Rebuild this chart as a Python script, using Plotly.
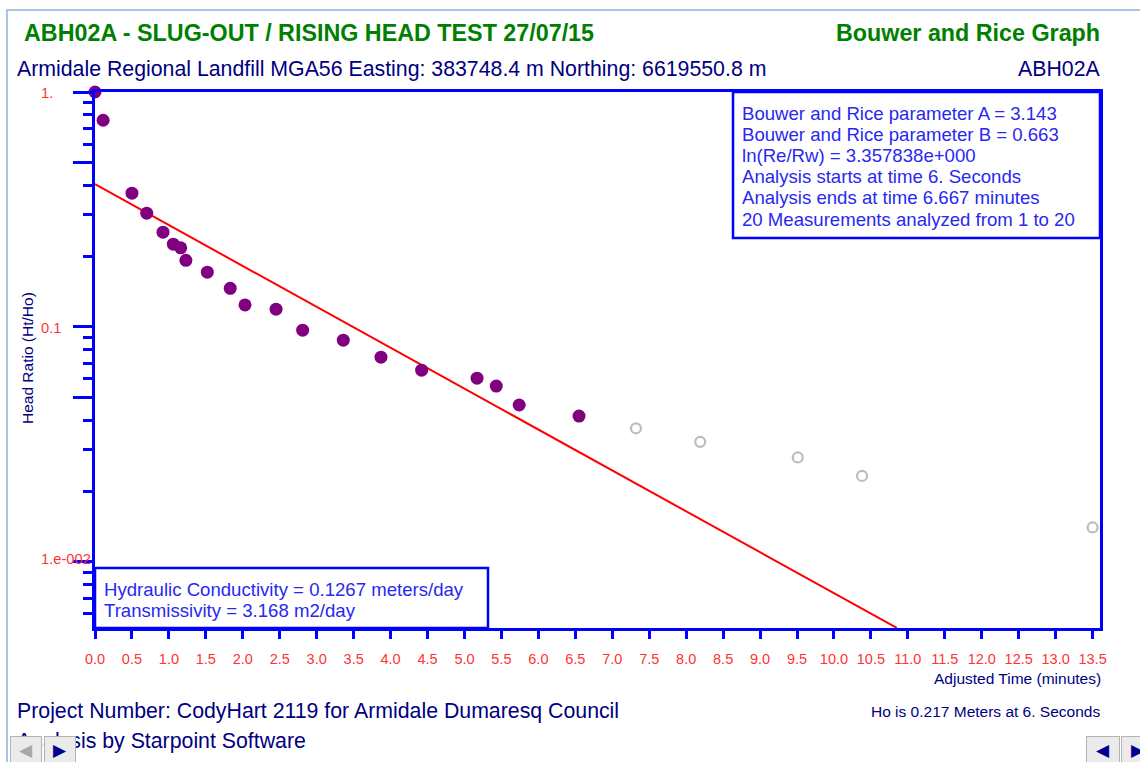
import math
import plotly.graph_objects as go

# ---------------- data ----------------
analyzed_time = [0.0, 0.11, 0.50, 0.70, 0.92, 1.06, 1.16, 1.23, 1.52, 1.83,
                 2.03, 2.45, 2.81, 3.36, 3.87, 4.42, 5.17, 5.43, 5.74, 6.55]
analyzed_ratio = [1.0, 0.758, 0.371, 0.305, 0.253, 0.225, 0.217, 0.192, 0.171, 0.146,
                  0.124, 0.119, 0.0968, 0.0878, 0.0743, 0.0654, 0.0605, 0.0560, 0.0465, 0.0417]
excluded_time = [7.32, 8.19, 9.51, 10.38, 13.50]
excluded_ratio = [0.0370, 0.0324, 0.0278, 0.0232, 0.0140]
fit_time = [0.0, 10.85]
fit_ratio = [0.405, 0.00523]

y_major_ticks = [1, 0.5, 0.1, 0.05, 0.01, 0.005]
y_minor_ticks = [0.9, 0.8, 0.7, 0.6, 0.4, 0.3, 0.2,
                 0.09, 0.08, 0.07, 0.06, 0.04, 0.03, 0.02,
                 0.009, 0.008, 0.007, 0.006]
y_label_values = [1, 0.1, 0.01]
y_label_texts = ["1.", "0.1", "1.e-002"]

params_lines = [
    "Bouwer and Rice parameter A = 3.143",
    "Bouwer and Rice parameter B = 0.663",
    "ln(Re/Rw) = 3.357838e+000",
    "Analysis starts at time 6. Seconds",
    "Analysis ends at time 6.667 minutes",
    "20 Measurements analyzed from 1 to 20",
]
result_lines = [
    "Hydraulic Conductivity = 0.1267 meters/day",
    "Transmissivity = 3.168 m2/day",
]

# ---------------- layout helpers ----------------
W, H = 1140, 762
L, R, T, B = 95, 1100, 92, 628
YMIN_LOG = -2.282
FONT = "Arial, Liberation Sans, sans-serif"
BLUE = "#0000ff"
NAVY = "#000080"
TXTBLUE = "#2828f0"
RED = "#ff3333"
GREEN = "#008000"


def px(x):
    return (x - L) / (R - L)


def py(y):
    return (B - y) / (B - T)


fig = go.Figure()

fig.add_trace(go.Scatter(x=fit_time, y=fit_ratio, mode="lines",
                         line=dict(color="#ff0000", width=2), hoverinfo="skip"))
fig.add_trace(go.Scatter(x=excluded_time, y=excluded_ratio, mode="markers",
                         marker=dict(symbol="circle-open", size=10, color="#bdbdbd",
                                     line=dict(width=2.2, color="#bdbdbd")),
                         cliponaxis=False))
fig.add_trace(go.Scatter(x=analyzed_time, y=analyzed_ratio, mode="markers",
                         marker=dict(symbol="circle", size=13, color="#800080",
                                     line=dict(width=0)),
                         cliponaxis=False))

ann = []


def text(x, y, s, size, color, xanchor="left", weight=None, angle=0):
    f = dict(family=FONT, size=size, color=color)
    if weight:
        f["weight"] = weight
    ann.append(dict(x=px(x), y=py(y), xref="paper", yref="paper", text=s,
                    showarrow=False, xanchor=xanchor, yanchor="middle",
                    font=f, textangle=angle, borderpad=0))


text(23, 33, "ABH02A - SLUG-OUT / RISING HEAD TEST 27/07/15", 23.3, GREEN, weight=700)
text(1101, 33, "Bouwer and Rice Graph", 23.3, GREEN, xanchor="right", weight=700)
text(16, 69, "Armidale Regional Landfill MGA56 Easting: 383748.4 m Northing: 6619550.8 m", 21.3, NAVY)
text(1101, 69, "ABH02A", 21.3, NAVY, xanchor="right")
text(16, 711, "Project Number: CodyHart 2119 for Armidale Dumaresq Council", 21.3, NAVY)
text(16, 741, "Analysis by Starpoint Software", 21.3, NAVY)
text(1101, 711, "Ho is 0.217 Meters at 6. Seconds", 15.5, NAVY, xanchor="right")
text(1102, 678, "Adjusted Time (minutes)", 15.5, NAVY, xanchor="right")
ann.append(dict(x=px(27), y=py(358), xref="paper", yref="paper", text="Head Ratio (Ht/Ho)",
                showarrow=False, xanchor="center", yanchor="middle", textangle=-90,
                font=dict(family=FONT, size=15.5, color=NAVY)))

# y tick labels (left aligned like the original)
for v, s in zip(y_label_values, y_label_texts):
    ypix = B - (math.log10(v) - YMIN_LOG) / (-YMIN_LOG) * (B - T)
    if v == 0.01:
        ypix -= 4
    text(40, ypix + 1, s, 14.7, RED)

# parameter box text
for i, s in enumerate(params_lines):
    text(741, 113 + i * 21.2, s, 18.6, TXTBLUE)
for i, s in enumerate(result_lines):
    text(103, 589 + i * 21.2, s, 18.6, TXTBLUE)


# navigation buttons (drawn last so they cover the text, as in the original screenshot)
def button(xc, yc, w, h, glyph, color):
    ann.append(dict(x=px(xc), y=py(yc), xref="paper", yref="paper", text=glyph,
                    showarrow=False, xanchor="center", yanchor="middle",
                    width=w, height=h, bgcolor="#ebebeb", bordercolor="#b4b4b4",
                    borderwidth=1, borderpad=0,
                    font=dict(family="DejaVu Sans", size=17, color=color)))


button(26, 750, 30, 26, "◀", "#a8a8a8")
button(60, 750, 30, 26, "▶", "#000090")
button(1103, 750, 32, 26, "◀", "#000090")
button(1138, 750, 32, 26, "▶", "#000090")

shapes = [
    # outer light-blue frame
    dict(type="rect", xref="paper", yref="paper", x0=px(7), x1=px(1160), y0=py(10), y1=py(790),
         line=dict(color="#8db3e2", width=1.5), fillcolor="rgba(0,0,0,0)", layer="below"),
    # parameter box
    dict(type="rect", xref="paper", yref="paper", x0=px(733), x1=px(1100), y0=py(92), y1=py(238),
         line=dict(color=BLUE, width=2.5), fillcolor="white", layer="above"),
    # result box
    dict(type="rect", xref="paper", yref="paper", x0=px(95), x1=px(488), y0=py(568), y1=py(628),
         line=dict(color=BLUE, width=2.5), fillcolor="white", layer="above"),
]

fig.update_layout(
    width=W, height=H,
    margin=dict(l=L, r=W - R, t=T, b=H - B),
    paper_bgcolor="white", plot_bgcolor="white",
    showlegend=False,
    annotations=ann,
    shapes=shapes,
    xaxis=dict(range=[0, 13.6], tickmode="linear", tick0=0, dtick=0.5, tickformat=".1f",
               showgrid=False, zeroline=False, showline=True, mirror=True,
               linecolor=BLUE, linewidth=2.5, ticks="outside", ticklen=8,
               tickwidth=2.5, tickcolor=BLUE, ticklabelstandoff=8,
               tickfont=dict(family=FONT, size=14.5, color=RED)),
    yaxis=dict(type="log", range=[YMIN_LOG, 0], tickmode="array", tickvals=y_major_ticks,
               showticklabels=False, showgrid=False, zeroline=False, showline=True,
               mirror=True, linecolor=BLUE, linewidth=2.5, ticks="outside", ticklen=19,
               tickwidth=2.5, tickcolor=BLUE,
               minor=dict(tickmode="array", tickvals=y_minor_ticks, ticks="outside",
                          ticklen=9, tickwidth=2.5, tickcolor=BLUE, showgrid=False)),
)

fig.write_html("out.html",
               config={"displayModeBar": False},
               post_script="document.body.style.margin='0px';document.body.style.overflow='hidden';")
